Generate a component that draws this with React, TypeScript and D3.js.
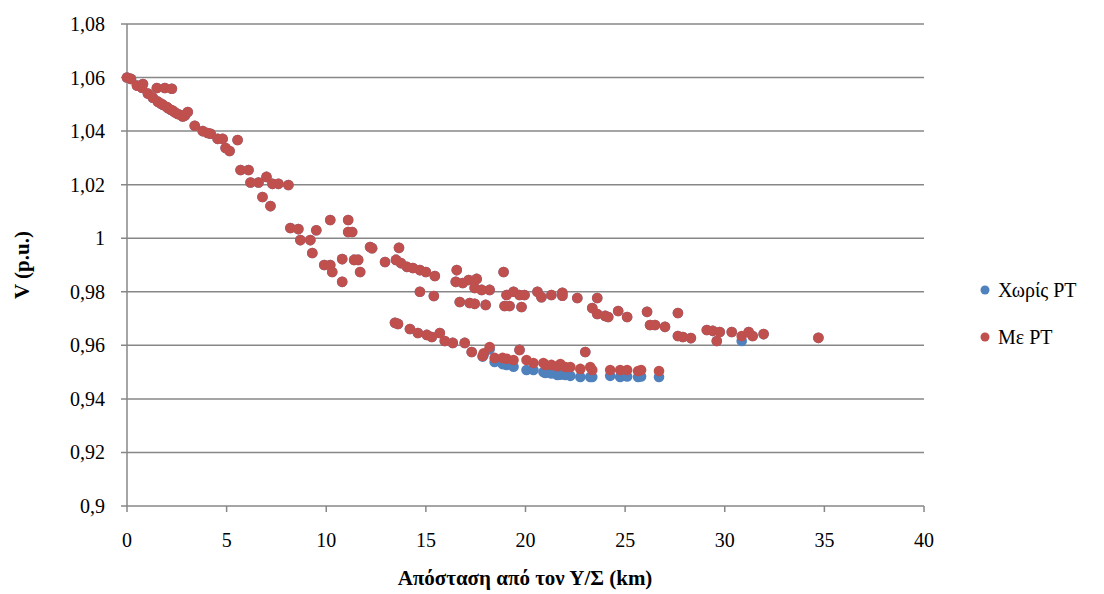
import * as d3 from "d3"

// distance from substation (km)
const distKm = [
  0.0, 0.2, 0.5, 0.75, 0.8, 1.05, 1.3, 1.5, 1.55, 1.7, 1.8, 1.9, 2.0, 2.05, 2.2, 2.25, 2.3, 2.4, 2.55, 2.7,
  2.8, 2.9, 3.05, 3.4, 3.8, 4.05, 4.2, 4.55, 4.8, 4.95, 5.15, 5.55, 5.7, 6.1, 6.2, 6.6, 6.8, 7.0, 7.2, 7.3,
  7.6, 8.1, 8.2, 8.6, 8.7, 9.2, 9.3, 9.5, 9.9, 10.2, 10.2, 10.3, 10.8, 10.8, 11.1, 11.1, 11.3, 11.4, 11.6, 11.7,
  12.2, 12.3, 12.95, 13.5, 13.65, 13.75, 14.05, 14.35, 14.7, 14.7, 15.0, 15.4, 15.45, 16.5, 16.55, 16.7, 16.85, 17.15, 17.2, 17.45,
  17.45, 17.55, 17.8, 18.0, 18.2, 18.9, 18.95, 19.05, 19.2, 19.4, 19.7, 19.8, 19.95, 20.6, 20.8, 21.3, 21.85, 21.85, 22.6, 23.35,
  23.6, 23.6, 24.0, 24.15, 24.65, 25.1, 26.1, 26.25, 26.5, 27.0, 27.65, 27.65, 27.9, 28.3, 29.1, 29.4, 29.6, 29.75, 30.35, 30.85,
  31.2, 31.4, 31.95, 34.7,
  // lower branch
  13.45, 13.6, 14.2, 14.6, 15.05, 15.3, 15.7, 15.95, 16.35, 16.95, 17.3, 17.85, 17.9, 18.2, 18.45, 18.85, 19.05, 19.4, 19.7, 20.05,
  20.4, 20.9, 21.0, 21.3, 21.6, 21.75, 22.0, 22.25, 22.75, 23.0, 23.25, 23.35, 24.25, 24.75, 25.1, 25.65, 25.8, 26.7,
]

// V (p.u.) without PT
const vWithout = [
  1.06, 1.0595, 1.057, 1.0562, 1.0576, 1.054, 1.0525, 1.0561, 1.051, 1.0503, 1.0498, 1.0561, 1.049, 1.0486, 1.048, 1.0558, 1.0476, 1.047, 1.0464, 1.046,
  1.0455, 1.0458, 1.0471, 1.042, 1.04, 1.0393, 1.039, 1.0371, 1.0371, 1.0337, 1.0326, 1.0367, 1.0255, 1.0255, 1.0208, 1.0208, 1.0154, 1.0229, 1.012, 1.0203,
  1.0203, 1.0199, 1.0038, 1.0034, 0.9993, 0.9993, 0.9945, 1.003, 0.99, 1.0068, 0.99, 0.9874, 0.9922, 0.9837, 1.0068, 1.0023, 1.0023, 0.9919, 0.9919, 0.9874,
  0.9967, 0.9963, 0.9911, 0.9919, 0.9964, 0.9907, 0.9893, 0.9889, 0.9881, 0.98, 0.9874, 0.9784, 0.9859, 0.9837, 0.9881, 0.9762, 0.9833, 0.9844, 0.9758, 0.9814,
  0.9755, 0.9848, 0.9807, 0.9751, 0.9807, 0.9874, 0.9747, 0.9788, 0.9747, 0.98, 0.9788, 0.9743, 0.9788, 0.98, 0.978, 0.9788, 0.9796, 0.9785, 0.9777, 0.9739,
  0.9777, 0.9717, 0.971, 0.9706, 0.9728, 0.9706, 0.9725, 0.9676, 0.9676, 0.9669, 0.9721, 0.9635, 0.9631, 0.9627, 0.9657, 0.9654, 0.9616, 0.965, 0.965, 0.9616,
  0.965, 0.9635, 0.9642, 0.9628,
  0.9684, 0.968, 0.9661, 0.9646, 0.9639, 0.9631, 0.9646, 0.9616, 0.9609, 0.9609, 0.9575, 0.9558, 0.9565, 0.9585, 0.9538, 0.953, 0.9527, 0.952, 0.9583, 0.9508,
  0.9508, 0.95, 0.9497, 0.9495, 0.9489, 0.949, 0.9489, 0.9486, 0.9482, 0.9575, 0.9482, 0.9482, 0.9486, 0.9482, 0.9484, 0.9482, 0.9484, 0.9482,
]

// V (p.u.) with PT
const vWith = [
  1.06, 1.0595, 1.057, 1.0562, 1.0576, 1.054, 1.0525, 1.0561, 1.051, 1.0503, 1.0498, 1.0561, 1.049, 1.0486, 1.048, 1.0558, 1.0476, 1.047, 1.0464, 1.046,
  1.0455, 1.0458, 1.0471, 1.042, 1.04, 1.0393, 1.039, 1.0371, 1.0371, 1.0337, 1.0326, 1.0367, 1.0255, 1.0255, 1.0208, 1.0208, 1.0154, 1.0229, 1.012, 1.0203,
  1.0203, 1.0199, 1.0038, 1.0034, 0.9993, 0.9993, 0.9945, 1.003, 0.99, 1.0068, 0.99, 0.9874, 0.9922, 0.9837, 1.0068, 1.0023, 1.0023, 0.9919, 0.9919, 0.9874,
  0.9967, 0.9963, 0.9911, 0.9919, 0.9964, 0.9907, 0.9893, 0.9889, 0.9881, 0.98, 0.9874, 0.9784, 0.9859, 0.9837, 0.9881, 0.9762, 0.9833, 0.9844, 0.9758, 0.9814,
  0.9755, 0.9848, 0.9807, 0.9751, 0.9807, 0.9874, 0.9747, 0.9788, 0.9747, 0.98, 0.9788, 0.9743, 0.9788, 0.98, 0.978, 0.9788, 0.9796, 0.9785, 0.9777, 0.9739,
  0.9777, 0.9717, 0.971, 0.9706, 0.9728, 0.9706, 0.9725, 0.9676, 0.9676, 0.9669, 0.9721, 0.9635, 0.9631, 0.9627, 0.9657, 0.9654, 0.9616, 0.965, 0.965, 0.9635,
  0.965, 0.9635, 0.9642, 0.9628,
  0.9684, 0.968, 0.9661, 0.9646, 0.9639, 0.9631, 0.9646, 0.9616, 0.9609, 0.9609, 0.9575, 0.956, 0.957, 0.9594, 0.9553, 0.9553, 0.955, 0.9545, 0.9583, 0.9545,
  0.9534, 0.9534, 0.9527, 0.9527, 0.9522, 0.953, 0.9519, 0.9519, 0.9512, 0.9575, 0.9519, 0.9508, 0.9508, 0.9508, 0.9508, 0.9504, 0.9508, 0.9504,
]

const xTicks = [0, 5, 10, 15, 20, 25, 30, 35, 40]
const yTicks = [0.9, 0.92, 0.94, 0.96, 0.98, 1, 1.02, 1.04, 1.06, 1.08]

const series = [
  { name: "Χωρίς PT", color: "#4F81BD", values: vWithout },
  { name: "Με PT", color: "#C0504D", values: vWith },
]

const left = 127, right = 924, top = 24, bottom = 506

export default function App() {
  const x = d3.scaleLinear().domain([0, 40]).range([left, right])
  const y = d3.scaleLinear().domain([0.9, 1.08]).range([bottom, top])
  const fmt = (v: number) => d3.format(".2~f")(v).replace(".", ",")

  return (
    <svg width={1104} height={594} style={{ position: "absolute", left: 0, top: 0 }}>
      <rect width={1104} height={594} fill="#fff" />
      {yTicks.map(t => (
        <line key={"g" + t} x1={left - 6} x2={right} y1={y(t)} y2={y(t)} stroke="#878787" strokeWidth={1.5} />
      ))}
      <line x1={left} x2={left} y1={top} y2={bottom} stroke="#878787" strokeWidth={1.5} />
      {xTicks.map(t => (
        <line key={"t" + t} x1={x(t)} x2={x(t)} y1={bottom} y2={bottom + 6} stroke="#878787" strokeWidth={1.5} />
      ))}
      {series.map(s => (
        <g key={s.name}>
          {distKm.map((d, i) => (
            <circle key={i} cx={x(d)} cy={y(s.values[i])} r={5.3} fill={s.color} />
          ))}
        </g>
      ))}
      {yTicks.map(t => (
        <text key={"y" + t} x={105} y={y(t) + 7} textAnchor="end" fontSize={20} fontFamily="Times New Roman">{fmt(t)}</text>
      ))}
      {xTicks.map(t => (
        <text key={"x" + t} x={x(t)} y={547} textAnchor="middle" fontSize={20} fontFamily="Times New Roman">{t}</text>
      ))}
      <text x={525} y={585} textAnchor="middle" fontSize={21} fontWeight="bold" fontFamily="Times New Roman">Απόσταση από τον Υ/Σ (km)</text>
      <text transform="translate(29,265) rotate(-90)" textAnchor="middle" fontSize={21} fontWeight="bold" fontFamily="Times New Roman">V (p.u.)</text>
      {series.map((s, i) => (
        <g key={"l" + s.name} transform={`translate(985,${290 + i * 47})`}>
          <circle r={4.5} fill={s.color} />
          <text x={13} y={7} fontSize={20} fontFamily="Times New Roman">{s.name}</text>
        </g>
      ))}
    </svg>
  )
}
